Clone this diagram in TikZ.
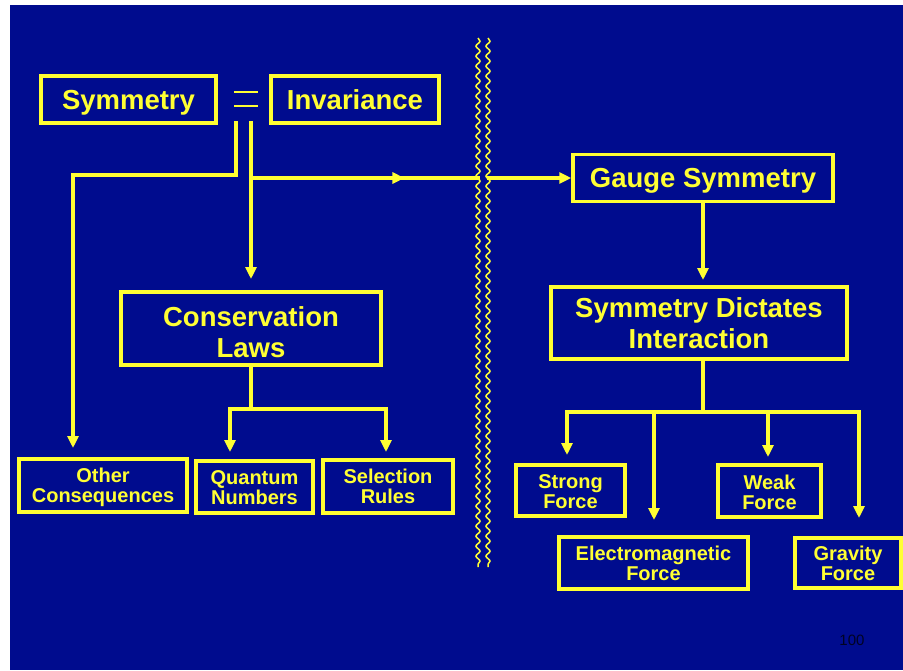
\documentclass[tikz,border=0pt]{standalone}
\usepackage{fontspec}
\setmainfont{Liberation Sans}
\usetikzlibrary{arrows.meta,decorations.pathmorphing,decorations.markings}
\definecolor{bg}{RGB}{0,12,142}
\definecolor{yel}{RGB}{255,255,51}
\begin{document}
\begin{tikzpicture}[x=1pt,y=-1pt,
  box/.style={draw=yel,line width=3.5pt,text=yel,font=\bfseries\fontsize{27.5}{31}\selectfont,align=center,inner sep=0pt,text height=19.7pt,text depth=0pt},
  bbox/.style={box,text height=50.7pt,text depth=0pt},
  sbox/.style={box,font=\bfseries\fontsize{20}{20}\selectfont,text height=34.3pt,text depth=0pt},
  conn/.style={yel,line width=3.5pt},
  tipshape/.style={-{Triangle[length=12pt,width=11pt]}},
  arr/.style={conn,tipshape},
  wavy/.style={yel,line width=1.5pt,decorate,decoration={snake,segment length=10pt,amplitude=2pt}}]
\useasboundingbox (0,0) rectangle (903,670);
\fill[white] (0,0) rectangle (903,670);
\fill[bg] (10,5) rectangle (903,670);

% boxes
\node[box,minimum width=175pt,minimum height=47pt] (sym) at (128.5,99.5) {Symmetry};
\node[box,minimum width=168pt,minimum height=47pt] (inv) at (355,99.5) {Invariance};
\node[bbox,text height=57.7pt,minimum width=260pt,minimum height=73pt] (cons) at (251,328.5) {Conservation\\Laws};
\node[sbox,minimum width=168pt,minimum height=53pt] (other) at (103,485.5) {Other\\Consequences};
\node[sbox,minimum width=117pt,minimum height=52pt] (quant) at (254.5,487) {Quantum\\Numbers};
\node[sbox,minimum width=130pt,minimum height=53pt] (sel) at (388,486.5) {Selection\\Rules};
\node[box,minimum width=260pt,minimum height=47pt] (gauge) at (703,178) {Gauge Symmetry};
\node[bbox,minimum width=296pt,minimum height=72pt] (dict) at (699,323) {Symmetry Dictates\\Interaction};
\node[sbox,text height=36.3pt,minimum width=109pt,minimum height=51pt] (strong) at (570.5,490.5) {Strong\\Force};
\node[sbox,text height=36.3pt,minimum width=103pt,minimum height=52pt] (weak) at (769.5,491) {Weak\\Force};
\node[sbox,minimum width=189pt,minimum height=52pt] (em) at (653.5,563) {Electromagnetic\\Force};
\node[sbox,minimum width=106pt,minimum height=50pt] (grav) at (848,563) {Gravity\\Force};
\node[font=\fontsize{15}{18}\selectfont,text=black!75!bg] (pagenum) at (852,640) {100};

% equals sign
\draw[yel,line width=1.5pt] (234,92) -- (258,92);
\draw[yel,line width=1.5pt] (234,106) -- (258,106);

% wavy divider
\draw[wavy] (478,38) -- (478,567);
\draw[wavy] (488,38) -- (488,567);

% coordinates
\coordinate (eqL) at (236,121);
\coordinate (eqR) at (251,121);
\coordinate (bendL) at (236,175);
\coordinate (otherTip) at (73,448);
\coordinate (consTip) at (251,279);
\coordinate (branch) at (251,178);
\coordinate (waveL) at (480,178);
\coordinate (waveR) at (487,178);
\coordinate (dictTip) at (703,280);
\coordinate (consBar) at (251,409);
\coordinate (qTip) at (230,452);
\coordinate (sTip) at (386,452);
\coordinate (dictTop) at (703,359);
\coordinate (dictBar) at (703,412);
\coordinate (strongTip) at (567,455);
\coordinate (emTip) at (654,520);
\coordinate (weakTip) at (768,457);
\coordinate (gravTip) at (859,518);

% connectors
\draw[arr] (eqL) -- (bendL) -| (otherTip);
\draw[arr] (eqR) -- (consTip);
\draw[conn,postaction={decorate},decoration={markings,mark=at position 0.67 with {\arrow{Triangle[length=12pt,width=11pt]}}}] (branch) -- (waveL);
\draw[arr] (waveR) -- (gauge.west);
\draw[arr] (gauge.south -| dictTip) -- (dictTip);
\draw[conn] (cons.south) -- (consBar);
\draw[arr] (consBar) -| (qTip);
\draw[arr] (consBar) -| (sTip);
\draw[conn] (dictTop) -- (dictBar);
\draw[arr] (dictBar) -| (strongTip);
\draw[arr] (dictBar) -| (emTip);
\draw[arr] (dictBar) -| (weakTip);
\draw[arr] (dictBar) -| (gravTip);
\end{tikzpicture}
\end{document}
